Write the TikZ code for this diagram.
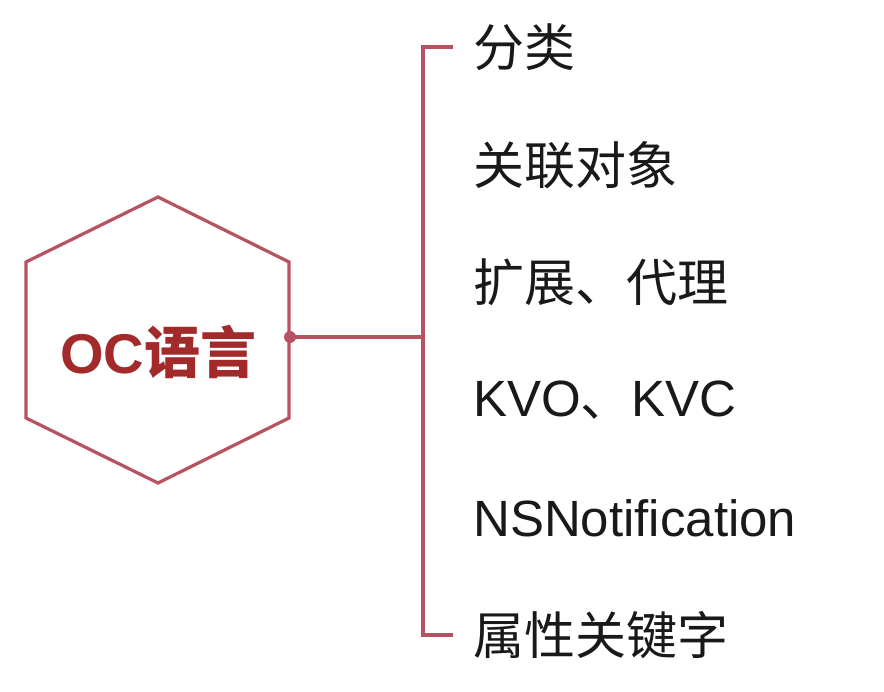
\documentclass[tikz,border=0pt]{standalone}
\usepackage{fontspec}
\setmainfont{Liberation Sans}
\newfontfamily\cjk{Noto Sans CJK SC}
\usetikzlibrary{positioning}
\definecolor{hexred}{RGB}{183,82,98}
\definecolor{ocred}{RGB}{163,42,42}
\definecolor{itemgray}{RGB}{25,25,25}

\begin{document}
\begin{tikzpicture}[x=1pt, y=-1pt,
    item/.style={anchor=west, inner sep=0pt, text=itemgray, font=\fontsize{51}{60}\selectfont},
    redline/.style={hexred, line width=3.2pt}]
    \useasboundingbox (0,0) rectangle (884,692);

    % Hexagon
    \draw[redline, line join=miter] (158,197) -- (289,262) -- (289,418)
        -- (158,483) -- (26,418) -- (26,262) -- cycle;
    \node[text=ocred, font=\fontsize{56}{60}\selectfont\bfseries] (oc) at (158,352) {OC{\cjk 语言}};

    % Topics
    \node[item] (fenlei)   at (473,47)  {\cjk 分类};
    \node[item] (guanlian) at (473,165) {\cjk 关联对象};
    \node[item] (kuozhan)  at (473,282) {\cjk 扩展、代理};
    \node[item] (kvo)      at (473,400) {KVO{\cjk 、}KVC};
    \node[item] (notif)    at (473,518) {NSNotification};
    \node[item] (shuxing)  at (473,635) {\cjk 属性关键字};

    % Junction and bracket
    \coordinate (hub) at (290,337);
    \coordinate (bar) at (423,337);
    \draw[redline] (hub) -- (bar);
    \fill[hexred] (hub) circle (6);
    \draw[redline, line join=miter] ([xshift=-20pt]fenlei.west) -- (fenlei.west -| bar)
        -- (shuxing.west -| bar) -- ([xshift=-20pt]shuxing.west);
\end{tikzpicture}
\end{document}
